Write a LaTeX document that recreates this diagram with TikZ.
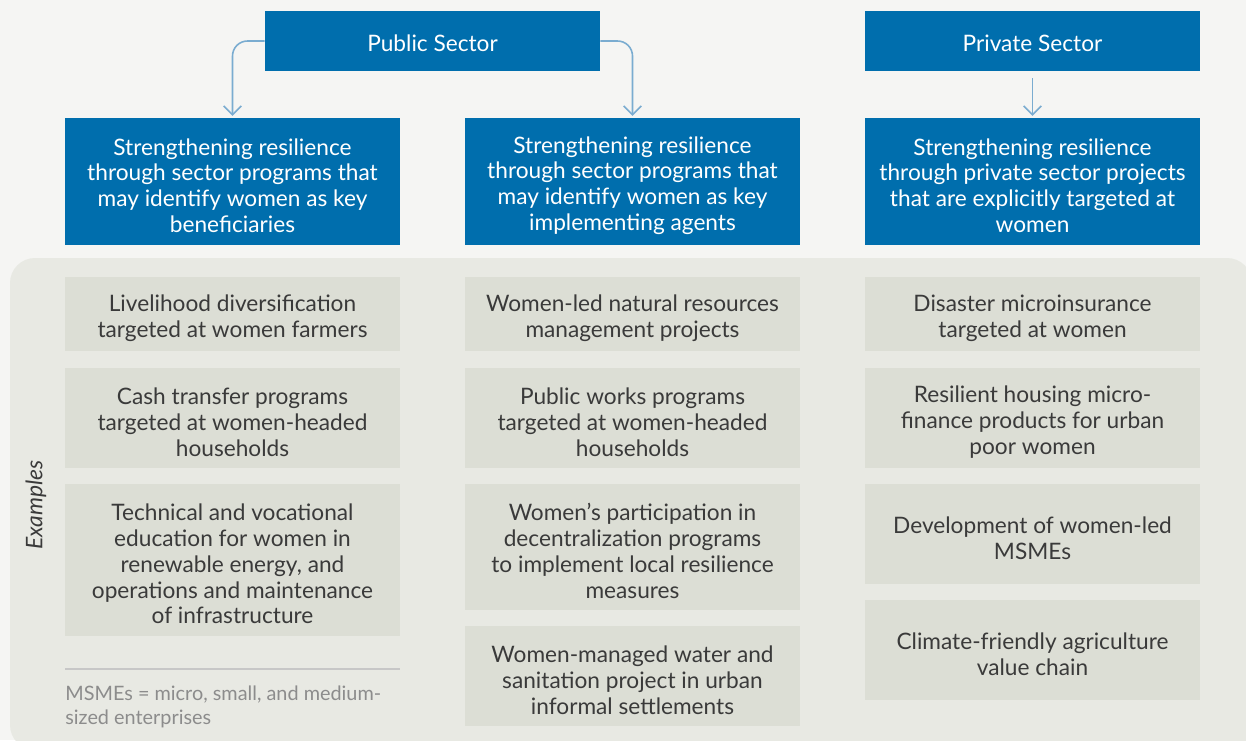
\documentclass[tikz,border=0pt]{standalone}
\usepackage{fontspec}
\setmainfont{Lato}
\usetikzlibrary{positioning}
\usetikzlibrary{arrows.meta}

\definecolor{wbblue}{RGB}{0,110,173}
\definecolor{arrowblue}{RGB}{122,172,208}
\definecolor{pagegray}{RGB}{245,245,243}
\definecolor{panelgray}{RGB}{232,233,227}
\definecolor{boxgray}{RGB}{220,222,213}
\definecolor{textgray}{RGB}{58,58,58}
\definecolor{notegray}{RGB}{140,140,140}

\begin{document}
\begin{tikzpicture}[x=0.02cm, y=-0.02cm,
    every node/.style={inner sep=0pt, align=center, font=\fontsize{12.9}{14.7}\selectfont},
    white text/.style={label={[text=white, yshift=-0.08cm]center:#1}},
    gray text/.style={label={[text=textgray, yshift=-0.08cm]center:#1}},
    sector/.style={fill=wbblue, minimum width=6.7cm, minimum height=1.2cm, label={[text=white, yshift=-0.045cm]center:#1}},
    strand/.style={fill=wbblue, minimum width=6.7cm, minimum height=2.54cm, white text={#1}},
    example/.style={fill=boxgray, minimum width=6.7cm, gray text={#1}},
    link/.style={draw=arrowblue, line width=0.9pt, -{Straight Barb[length=5pt, width=10pt]}, rounded corners=0.3cm}]
  % Fondo
  \clip (0,0) rectangle (1246,740);
  \fill[pagegray] (0,0) rectangle (1246,740);
  \fill[panelgray, rounded corners=0.5cm] (10,258) rectangle (1252,750);

  % Sectores
  \node[sector={Public Sector}] (pub) at (432.5,41) {};
  \node[sector={Private Sector}] (pri) at (1032.5,41) {};

  % Programas
  \node[strand={Strengthening resilience\\through sector programs that\\may identify women as key\\beneficiaries}] (ben) at (232.5,181.5) {};
  \node[strand={Strengthening resilience\\through sector programs that\\may identify women as key\\implementing agents}] (agt) at (632.5,181.5) {};
  \node[strand={Strengthening resilience\\through private sector projects\\that are explicitly targeted at\\women}] (prv) at (1032.5,181.5) {};

  % Ejemplos
  \node[example={Livelihood diversification\\targeted at women farmers}, minimum height=1.48cm] (b1) at (232.5,314) {};
  \node[example={Cash transfer programs\\targeted at women-headed\\households}, minimum height=2cm] (b2) at (232.5,418) {};
  \node[example={Technical and vocational\\education for women in\\renewable energy, and\\operations and maintenance\\of infrastructure}, minimum height=3.04cm] (b3) at (232.5,560) {};

  \node[example={Women-led natural resources\\management projects}, minimum height=1.48cm] (a1) at (632.5,314) {};
  \node[example={Public works programs\\targeted at women-headed\\households}, minimum height=2cm] (a2) at (632.5,418) {};
  \node[example={Women’s participation in\\decentralization programs\\to implement local resilience\\measures}, minimum height=2.52cm] (a3) at (632.5,547) {};
  \node[example={Women-managed water and\\sanitation project in urban\\informal settlements}, minimum height=2cm] (a4) at (632.5,676) {};

  \node[example={Disaster microinsurance\\targeted at women}, minimum height=1.48cm] (p1) at (1032.5,314) {};
  \node[example={Resilient housing micro-\\finance products for urban\\poor women}, minimum height=2cm] (p2) at (1032.5,418) {};
  \node[example={Development of women-led\\MSMEs}, minimum height=2cm] (p3) at (1032.5,534) {};
  \node[example={Climate-friendly agriculture\\value chain}, minimum height=2cm] (p4) at (1032.5,650) {};

  \node[rotate=90, text=textgray, font=\fontsize{13}{15}\selectfont\itshape] (ex) at (36,505) {Examples};

  % Nota
  \coordinate (nl) at (65,669);
  \coordinate (nr) at (400,669);
  \draw[line width=0.8pt, black!22] (nl) -- (nr);
  \node[anchor=north west, align=left, text=notegray, font=\fontsize{11.3}{13.6}\selectfont] (note) at (65,686) {MSMEs = micro, small, and medium-\\sized enterprises};

  % Flechas
  \draw[link] (pub.west) -| ([yshift=1pt]ben.north);
  \draw[link] (pub.east) -| ([yshift=1pt]agt.north);
  \draw[link, shorten <=0.14cm] (pri.south) -- ([yshift=1pt]prv.north);
\end{tikzpicture}
\end{document}
